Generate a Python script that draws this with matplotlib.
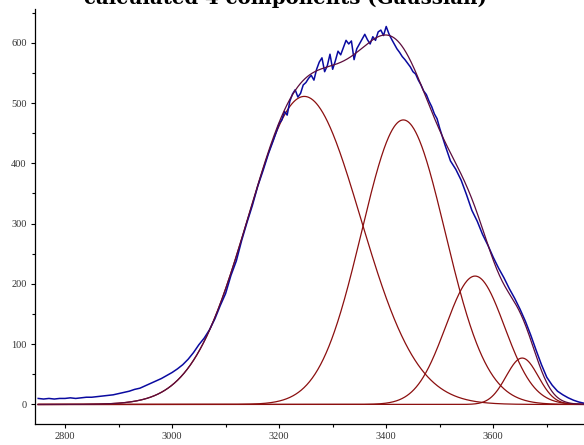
import numpy as np
import matplotlib
matplotlib.use("Agg")
import matplotlib.pyplot as plt
from matplotlib.ticker import MultipleLocator

# measured spectrum (wavenumber, intensity)
wn = [2750, 2760, 2770, 2780, 2790, 2800, 2810, 2820, 2830, 2840,
      2850, 2860, 2870, 2880, 2890, 2900, 2910, 2920, 2930, 2940,
      2950, 2960, 2970, 2980, 2990, 3000, 3010, 3020, 3030, 3040,
      3050, 3060, 3070, 3080, 3090, 3100, 3110, 3120, 3130, 3140,
      3150, 3160, 3170, 3180, 3190,
      3200, 3205, 3210, 3215, 3220, 3225, 3230, 3235, 3240, 3245,
      3250, 3255, 3260, 3265, 3270, 3275, 3280, 3285, 3290, 3295,
      3300, 3305, 3310, 3315, 3320, 3325, 3330, 3335, 3340, 3345,
      3350, 3355, 3360, 3365, 3370, 3375, 3380, 3385, 3390, 3395,
      3400, 3405, 3410, 3415, 3420, 3425, 3430, 3435, 3440, 3445,
      3450, 3455, 3460, 3465, 3470, 3475, 3480, 3485, 3490, 3495,
      3500, 3510, 3520, 3530, 3540, 3550, 3560, 3570, 3580, 3590,
      3600, 3610, 3620, 3630, 3640, 3650, 3660, 3670, 3680, 3690,
      3700, 3710, 3720, 3730, 3740, 3750, 3760, 3770]
intensity = [10, 9, 10, 9, 10, 10, 11, 10, 11, 12,
             12, 13, 14, 15, 16, 18, 20, 22, 25, 27,
             31, 35, 39, 43, 48, 53, 59, 66, 75, 86,
             99, 110, 124, 142, 164, 184, 214, 238, 272, 302,
             330, 362, 388, 416, 440,
             466, 472, 486, 480, 503, 515, 522, 510, 516, 530,
             534, 541, 546, 538, 556, 568, 575, 552, 562, 581,
             556, 570, 586, 580, 592, 604, 598, 603, 572, 590,
             598, 606, 614, 605, 598, 610, 604, 618, 621, 612,
             627, 615, 606, 598, 590, 584, 577, 572, 566, 560,
             552, 548, 538, 530, 520, 514, 503, 494, 482, 474,
             458, 430, 404, 390, 372, 348, 322, 304, 282, 264,
             244, 226, 210, 192, 176, 158, 138, 115, 90, 66,
             45, 32, 22, 16, 11, 7, 4, 2]

# fitted gaussian components
centers = [3247, 3432, 3566, 3654]
heights = [511, 472, 213, 77]
sigmas = [105, 78, 55, 30]

x = np.linspace(2750, 3780, 1200)
comps = [h * np.exp(-(x - c) ** 2 / (2 * s ** 2)) for c, h, s in zip(centers, heights, sigmas)]
total = np.sum(comps, axis=0)

fig = plt.figure(figsize=(5.84, 4.45), dpi=100)
ax = fig.add_axes([35 / 584, 21 / 445, 560 / 584, 415 / 445])

ax.plot(wn, intensity, color="#0a0aa0", lw=1.1, zorder=3)
for comp in comps:
    ax.plot(x, comp, color="#8b0f0f", lw=0.9, zorder=2)
ax.plot(x, total, color="#5c0c3c", lw=0.9, zorder=4)

ax.set_xlim(2744, 3790)
ax.set_ylim(-32.4, 656)

ax.spines["top"].set_visible(False)
ax.spines["right"].set_visible(False)
ax.spines["left"].set_linewidth(0.9)
ax.spines["bottom"].set_linewidth(0.9)

ax.xaxis.set_major_locator(MultipleLocator(200))
ax.xaxis.set_minor_locator(MultipleLocator(100))
ax.yaxis.set_major_locator(MultipleLocator(100))
ax.yaxis.set_minor_locator(MultipleLocator(50))
ax.tick_params(which="major", length=3, width=0.8, pad=3, labelsize=7.5, labelcolor="#333333")
ax.tick_params(which="minor", length=2, width=0.8)
for lab in ax.get_xticklabels() + ax.get_yticklabels():
    lab.set_family("Liberation Serif")

fig.text(0.488, 1 - 4 / 445, "calculated 4 components (Gaussian)", ha="center", va="baseline",
         fontsize=14.2, fontweight="bold", family="DejaVu Serif")

fig.savefig("out.png", dpi=100)
